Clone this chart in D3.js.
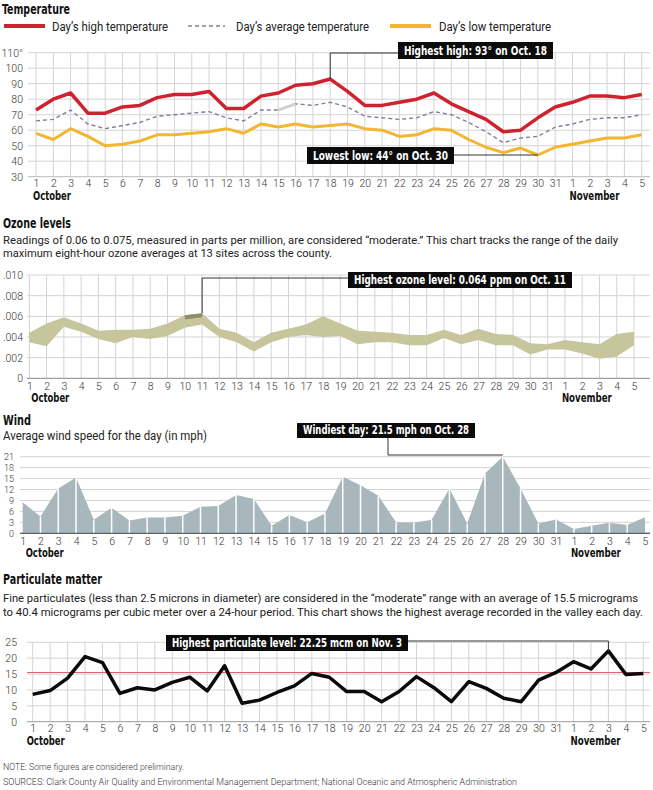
<!DOCTYPE html>
<html>
<head>
<meta charset="utf-8">
<script src="https://cdn.jsdelivr.net/npm/d3@7"></script>
<style>
  body { margin: 0; background: #fff; }
  svg { display: block; }
  .title { font-family: "DejaVu Sans Condensed", "Roboto", sans-serif; font-weight: bold; font-size: 14px; fill: #111; }
  .sub { font-family: "Roboto", sans-serif; font-size: 11px; fill: #222; }
  .tick text { font-family: "Roboto", sans-serif; font-weight: 300; font-size: 10.5px; fill: #333; }
  .small .tick text { font-size: 9px; }
  .month { font-family: "DejaVu Sans Condensed", "Roboto", sans-serif; font-weight: bold; font-size: 12px; fill: #111; }
  .note { font-family: "Roboto", sans-serif; font-weight: 300; font-size: 9px; fill: #333; }
  .callout { font-family: "DejaVu Sans Condensed", "Roboto", sans-serif; font-weight: bold; font-size: 12.5px; fill: #fff; }
</style>
</head>
<body>
<svg id="chart" width="653" height="790"></svg>
<script>
// day labels, Oct 1 -> Nov 5
const dayLabels = ["1","2","3","4","5","6","7","8","9","10","11","12","13","14","15","16","17","18","19","20",
  "21","22","23","24","25","26","27","28","29","30","31","1","2","3","4","5"];

const tempHigh = [73,80,84,71,71,75,76,81,83,83, 85,74,74,82,84,89,90,93,85,76,
  76,78,80,84,77,72,67,59,60,68,75, 78,82,82,81,83];
const tempAvg = [66,67,73,64,61,63,65,69,70,71, 72,68,66,73,73,77,76,78,75,69,
  68,67,68,72,70,65,59,52,55,56,62, 64,67,68,68,70];
const tempLow = [58,54,61,56,50,51,53,57,57,58, 59,61,58,64,62,64,62,63,64,61,
  60,56,57,61,60,54,49,45.5,48.5,44,49, 51,53,55,55,57];
const tempTicks = [30,40,50,60,70,80,90,100,110];

const ozoneTop = [.0044,.0053,.0059,.0053,.0046,.0047,.0047,.0048,.0053,.0061,
  .0063,.0048,.0044,.0035,.0044,.0048,.0052,.0060,.0053,.0046,
  .0045,.0044,.0042,.0042,.0047,.0042,.0048,.0043,.0042,.0034,.0033,
  .0037,.0035,.0033,.0043,.0045];
const ozoneBottom = [.0035,.0031,.0050,.0045,.0038,.0034,.0040,.0038,.0041,.0049,
  .0052,.0040,.0035,.0026,.0035,.0040,.0042,.0040,.0041,.0033,
  .0035,.0035,.0032,.0032,.0039,.0033,.0037,.0032,.0032,.0023,.0028,
  .0028,.0024,.0019,.0021,.0032];
const ozoneTicks = [0,.002,.004,.006,.008,.010];
const ozoneTickLabels = ["0",".002",".004",".006",".008",".010"];

const wind = [8.5,4.6,12.3,15.3,3.7,7.0,3.5,4.3,4.3,4.8, 7.3,7.5,10.5,9.4,2.1,5.0,3.0,5.4,15.5,13.2,
  10.3,3.0,2.9,3.7,12.3,2.7,16.4,21,12.3,2.7,3.8, 1.2,2.1,2.9,2.3,4.4];
const windTicks = [0,3,6,9,12,15,18,21];

const particulate = [8.6,9.8,13.7,20.5,18.6,8.9,10.7,10.0,12.4,14.0, 9.7,17.6,5.8,6.8,9.2,11.3,15.2,14.0,9.5,9.5,
  6.3,9.5,14.2,10.7,6.3,12.6,10.5,7.4,6.3,13.1,15.5, 18.9,16.6,22.3,14.9,15.2];
const partTicks = [0,5,10,15,20,25];
const partModerate = 15.5;

const svg = d3.select("#chart");
const idx = d3.range(dayLabels.length);

function fitText(x, y, str, cls, width) {
  const t = svg.append("text").attr("class", cls).attr("x", x).attr("y", y).text(str);
  if (width) t.attr("textLength", width).attr("lengthAdjust", "spacingAndGlyphs");
  return t;
}

function callout(x0, y0, x1, y1, str) {
  svg.append("rect").attr("x", x0).attr("y", y0).attr("width", x1 - x0).attr("height", y1 - y0).attr("fill", "#0b0b0b");
  fitText(x0 + 6, y1 - 4, str, "callout", x1 - x0 - 12);
}

function leader(points) {
  svg.append("path").attr("d", d3.line()(points)).attr("fill", "none").attr("stroke", "#333").attr("stroke-width", 1);
}

// common frame: grid + axes
function frame(p) {
  const g = svg.append("g");
  if (p.vgrid) {
    g.selectAll(".vg").data(idx).enter().append("line")
      .attr("x1", d => p.x(d)).attr("x2", d => p.x(d))
      .attr("y1", p.y.range()[1]).attr("y2", p.y.range()[0])
      .attr("stroke", "#d4d4d4").attr("stroke-width", 1);
  }
  g.selectAll(".hg").data(p.yTicks).enter().append("line")
    .attr("x1", p.gx0).attr("x2", 650)
    .attr("y1", d => p.y(d)).attr("y2", d => p.y(d))
    .attr("stroke", d => d === p.yTicks[0] ? p.baseColor : "#d4d4d4").attr("stroke-width", 1);

  const xa = svg.append("g").attr("transform", `translate(0,${p.y.range()[0] + p.xLabelOff})`)
    .call(d3.axisBottom(p.x).tickValues(idx).tickFormat(i => dayLabels[i]).tickSize(0).tickPadding(0));
  xa.select(".domain").remove();

  const ya = svg.append("g").attr("transform", `translate(${p.yLabelX},0)`)
    .attr("class", p.smallY ? "small" : null)
    .call(d3.axisLeft(p.y).tickValues(p.yTicks).tickFormat(p.yFormat).tickSize(0).tickPadding(0));
  ya.select(".domain").remove();

  fitText(p.x(0) + p.octOff, p.y.range()[0] + p.xLabelOff + 20, "October", "month", 38);
  fitText(p.x(31) - 3, p.y.range()[0] + p.xLabelOff + 20, "November", "month", 50);
}

// ---------- Temperature ----------
fitText(2, 14, "Temperature", "title", 68);
const legend = [
  {x0: 4, x1: 45, color: "#cf2230", w: 4, dash: null, label: "Day\u2019s high temperature", tx: 52, tw: 116},
  {x0: 188, x1: 225, color: "#8a7a98", w: 1.4, dash: "4,3", label: "Day\u2019s average temperature", tx: 236, tw: 133},
  {x0: 390, x1: 431, color: "#f2b630", w: 4, dash: null, label: "Day\u2019s low temperature", tx: 439, tw: 112}
];
legend.forEach(l => {
  svg.append("line").attr("x1", l.x0).attr("x2", l.x1).attr("y1", 26).attr("y2", 26)
    .attr("stroke", l.color).attr("stroke-width", l.w).attr("stroke-dasharray", l.dash);
  fitText(l.tx, 30.5, l.label, "sub", l.tw).style("font-size", "12px");
});

const xT = d3.scaleLinear().domain([0, 35]).range([36, 641.7]);
const yT = d3.scaleLinear().domain([30, 110]).range([176.7, 52.7]);
frame({x: xT, y: yT, yTicks: tempTicks, gx0: 28, vgrid: true, baseColor: "#bbb",
  yLabelX: 23, xLabelOff: 3, octOff: -3,
  yFormat: d => d === 110 ? "110\u00b0" : d});

const lineT = v => d3.line().x((d, i) => xT(i)).y(d => yT(d))(v);
svg.append("path").attr("d", lineT(tempAvg)).attr("fill", "none").attr("stroke", "#8a7a98")
  .attr("stroke-width", 1.4).attr("stroke-dasharray", "4,3");
svg.append("path").attr("d", d3.line()([[xT(14), yT(tempAvg[14])], [xT(15), yT(tempAvg[15])]]))
  .attr("stroke", "#d0d0d0").attr("stroke-width", 3);
svg.append("path").attr("d", lineT(tempLow)).attr("fill", "none").attr("stroke", "#f2b630")
  .attr("stroke-width", 3).attr("stroke-linejoin", "round");
svg.append("path").attr("d", lineT(tempHigh)).attr("fill", "none").attr("stroke", "#cf2230")
  .attr("stroke-width", 3.5).attr("stroke-linejoin", "round");

leader([[xT(17), yT(93)], [xT(17), 53], [398, 53]]);
callout(398, 42, 553, 59, "Highest high: 93\u00b0 on Oct. 18");
leader([[454, yT(44)], [xT(29), yT(44)]]);
callout(307, 147, 454, 164, "Lowest low: 44\u00b0 on Oct. 30");

// ---------- Ozone ----------
fitText(3, 228, "Ozone levels", "title", 68);
fitText(3, 244, "Readings of 0.06 to 0.075, measured in parts per million, are considered \u201cmoderate.\u201d This chart tracks the range of the daily", "sub", 615);
fitText(3, 257, "maximum eight-hour ozone averages at 13 sites across the county.", "sub", 329);

const xO = d3.scaleLinear().domain([0, 35]).range([29.3, 634]);
const yO = d3.scaleLinear().domain([0, 0.010]).range([378.3, 275]);
frame({x: xO, y: yO, yTicks: ozoneTicks, gx0: 27, vgrid: true, baseColor: "#888",
  yLabelX: 23, xLabelOff: 4, octOff: 2,
  yFormat: d => ozoneTickLabels[ozoneTicks.indexOf(d)]});

svg.append("path")
  .attr("d", d3.area().x(i => xO(i)).y0(i => yO(ozoneBottom[i])).y1(i => yO(ozoneTop[i]))(idx))
  .attr("fill", "#c6c59c");
svg.append("path")
  .attr("d", d3.area().x(i => xO(i)).y0(i => yO(ozoneTop[i] - 0.0004)).y1(i => yO(ozoneTop[i]))([9, 10]))
  .attr("fill", "#8d8f6c");

leader([[xO(10), yO(ozoneTop[10])], [xO(10), 278], [348, 278]]);
callout(348, 272, 572, 288, "Highest ozone level:  0.064 ppm on Oct. 11");

// ---------- Wind ----------
fitText(3, 425, "Wind", "title", 28);
fitText(3, 440, "Average wind speed for the day (in mph)", "sub", 204).style("font-size", "12px");

const xW = d3.scaleLinear().domain([0, 35]).range([22.7, 645]);
const yW = d3.scaleLinear().domain([0, 21]).range([533.3, 456.7]);
frame({x: xW, y: yW, yTicks: windTicks, gx0: 20, vgrid: false, baseColor: "#555", smallY: true,
  yLabelX: 14, xLabelOff: 4, octOff: 3, yFormat: d => d});

svg.append("path")
  .attr("d", d3.area().x((d, i) => xW(i)).y0(yW(0)).y1(d => yW(d))(wind))
  .attr("fill", "#a8b7bc");
svg.selectAll(".wtick").data(wind).enter().append("line")
  .attr("x1", (d, i) => xW(i)).attr("x2", (d, i) => xW(i))
  .attr("y1", yW(0)).attr("y2", d => yW(d))
  .attr("stroke", "#fff").attr("stroke-width", 1.5)
  .filter((d, i) => i === 0 || i === 35).remove();
svg.append("line").attr("x1", 20).attr("x2", 650).attr("y1", yW(0)).attr("y2", yW(0))
  .attr("stroke", "#555").attr("stroke-width", 1);

leader([[388, 437], [388, 455], [xW(27), 455]]);
callout(297, 423, 475, 438, "Windiest day: 21.5 mph on Oct. 28");

// ---------- Particulate matter ----------
fitText(3, 584, "Particulate matter", "title", 99);
fitText(3, 602, "Fine particulates (less than 2.5 microns in diameter) are considered in the \u201cmoderate\u201d range with an average of 15.5 micrograms", "sub", 635);
fitText(3, 616, "to 40.4 micrograms per cubic meter over a 24-hour period. This chart shows the highest average recorded in the valley each day.", "sub", 640);

const xP = d3.scaleLinear().domain([0, 35]).range([32.7, 643.3]);
const yP = d3.scaleLinear().domain([0, 25]).range([721.7, 642.3]);
frame({x: xP, y: yP, yTicks: partTicks, gx0: 27, vgrid: true, baseColor: "#999",
  yLabelX: 17, xLabelOff: 3, octOff: -6, yFormat: d => d});

svg.append("line").attr("x1", 27).attr("x2", 650).attr("y1", yP(partModerate)).attr("y2", yP(partModerate))
  .attr("stroke", "#e0606a").attr("stroke-width", 1);
svg.append("path")
  .attr("d", d3.line().x((d, i) => xP(i)).y(d => yP(d))(particulate))
  .attr("fill", "none").attr("stroke", "#0a0a0a").attr("stroke-width", 3.5).attr("stroke-linejoin", "round");

leader([[408, 641], [xP(33), 641], [xP(33), yP(22.3)]]);
callout(166, 635, 408, 651, "Highest particulate level: 22.25 mcm on Nov. 3");

// ---------- notes ----------
fitText(3, 770, "NOTE: Some figures are considered preliminary.", "note", 181);
fitText(3, 785, "SOURCES: Clark County Air Quality and Environmental Management Department; National Oceanic and Atmospheric Administration", "note", 514);
</script>
</body>
</html>
